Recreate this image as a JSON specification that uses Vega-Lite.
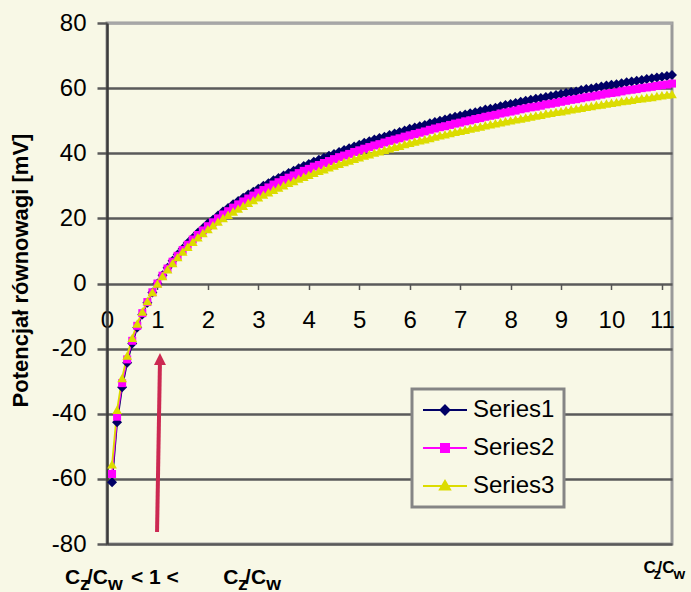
{
  "$schema": "https://vega.github.io/schema/vega-lite/v6.json",
  "width": 565,
  "height": 521,
  "autosize": {"type": "none"},
  "padding": {"left": 107, "top": 23, "right": 19, "bottom": 48},
  "background": "#f8f8e6",
  "config": {
    "font": "Liberation Sans",
    "view": {"stroke": "#9a9a9a", "strokeWidth": 3, "fill": "#f8f8e6"}
  },
  "datasets": {
    "curves": [
      {"x":0.1,"Series1":-61,"Series2":-58.5,"Series3":-55.5},
      {"x":0.2,"Series1":-42.6,"Series2":-40.9,"Series3":-38.8},
      {"x":0.3,"Series1":-31.9,"Series2":-30.6,"Series3":-29.0},
      {"x":0.4,"Series1":-24.3,"Series2":-23.3,"Series3":-22.1},
      {"x":0.5,"Series1":-18.4,"Series2":-17.6,"Series3":-16.7},
      {"x":0.6,"Series1":-13.5,"Series2":-13.0,"Series3":-12.3},
      {"x":0.7,"Series1":-9.5,"Series2":-9.1,"Series3":-8.6},
      {"x":0.8,"Series1":-5.9,"Series2":-5.7,"Series3":-5.4},
      {"x":0.9,"Series1":-2.8,"Series2":-2.7,"Series3":-2.6},
      {"x":1.0,"Series1":0,"Series2":0,"Series3":0},
      {"x":1.1,"Series1":2.5,"Series2":2.4,"Series3":2.3},
      {"x":1.2,"Series1":4.8,"Series2":4.6,"Series3":4.4},
      {"x":1.3,"Series1":7.0,"Series2":6.7,"Series3":6.3},
      {"x":1.4,"Series1":8.9,"Series2":8.5,"Series3":8.1},
      {"x":1.5,"Series1":10.7,"Series2":10.3,"Series3":9.8},
      {"x":1.6,"Series1":12.4,"Series2":11.9,"Series3":11.3},
      {"x":1.7,"Series1":14.0,"Series2":13.5,"Series3":12.8},
      {"x":1.8,"Series1":15.6,"Series2":14.9,"Series3":14.2},
      {"x":1.9,"Series1":17.0,"Series2":16.3,"Series3":15.5},
      {"x":2.0,"Series1":18.4,"Series2":17.6,"Series3":16.7},
      {"x":2.1,"Series1":19.6,"Series2":18.8,"Series3":17.9},
      {"x":2.2,"Series1":20.9,"Series2":20.0,"Series3":19.0},
      {"x":2.3,"Series1":22.1,"Series2":21.2,"Series3":20.1},
      {"x":2.4,"Series1":23.2,"Series2":22.2,"Series3":21.1},
      {"x":2.5,"Series1":24.3,"Series2":23.3,"Series3":22.1},
      {"x":2.6,"Series1":25.3,"Series2":24.3,"Series3":23.0},
      {"x":2.7,"Series1":26.3,"Series2":25.2,"Series3":23.9},
      {"x":2.8,"Series1":27.3,"Series2":26.1,"Series3":24.8},
      {"x":2.9,"Series1":28.2,"Series2":27.0,"Series3":25.6},
      {"x":3.0,"Series1":29.1,"Series2":27.9,"Series3":26.5},
      {"x":3.1,"Series1":30.0,"Series2":28.7,"Series3":27.3},
      {"x":3.2,"Series1":30.8,"Series2":29.5,"Series3":28.0},
      {"x":3.3,"Series1":31.7,"Series2":30.4,"Series3":28.8},
      {"x":3.4,"Series1":32.4,"Series2":31.1,"Series3":29.5},
      {"x":3.5,"Series1":33.2,"Series2":31.8,"Series3":30.2},
      {"x":3.6,"Series1":33.9,"Series2":32.5,"Series3":30.9},
      {"x":3.7,"Series1":34.6,"Series2":33.2,"Series3":31.5},
      {"x":3.8,"Series1":35.4,"Series2":33.9,"Series3":32.2},
      {"x":3.9,"Series1":36.1,"Series2":34.6,"Series3":32.8},
      {"x":4.0,"Series1":36.7,"Series2":35.2,"Series3":33.4},
      {"x":4.1,"Series1":37.4,"Series2":35.9,"Series3":34.0},
      {"x":4.2,"Series1":38.0,"Series2":36.4,"Series3":34.6},
      {"x":4.3,"Series1":38.6,"Series2":37.0,"Series3":35.1},
      {"x":4.4,"Series1":39.2,"Series2":37.6,"Series3":35.7},
      {"x":4.5,"Series1":39.8,"Series2":38.2,"Series3":36.2},
      {"x":4.6,"Series1":40.4,"Series2":38.8,"Series3":36.8},
      {"x":4.7,"Series1":41.0,"Series2":39.3,"Series3":37.3},
      {"x":4.8,"Series1":41.5,"Series2":39.8,"Series3":37.8},
      {"x":4.9,"Series1":42.1,"Series2":40.4,"Series3":38.3},
      {"x":5.0,"Series1":42.6,"Series2":40.9,"Series3":38.8},
      {"x":5.1,"Series1":43.2,"Series2":41.4,"Series3":39.3},
      {"x":5.2,"Series1":43.7,"Series2":41.9,"Series3":39.7},
      {"x":5.3,"Series1":44.2,"Series2":42.4,"Series3":40.2},
      {"x":5.4,"Series1":44.7,"Series2":42.8,"Series3":40.6},
      {"x":5.5,"Series1":45.1,"Series2":43.3,"Series3":41.1},
      {"x":5.6,"Series1":45.6,"Series2":43.8,"Series3":41.5},
      {"x":5.7,"Series1":46.1,"Series2":44.2,"Series3":42.0},
      {"x":5.8,"Series1":46.5,"Series2":44.6,"Series3":42.3},
      {"x":5.9,"Series1":47.0,"Series2":45.1,"Series3":42.8},
      {"x":6.0,"Series1":47.5,"Series2":45.5,"Series3":43.2},
      {"x":6.1,"Series1":47.9,"Series2":45.9,"Series3":43.6},
      {"x":6.2,"Series1":48.3,"Series2":46.3,"Series3":44.0},
      {"x":6.3,"Series1":48.7,"Series2":46.7,"Series3":44.3},
      {"x":6.4,"Series1":49.2,"Series2":47.2,"Series3":44.7},
      {"x":6.5,"Series1":49.6,"Series2":47.6,"Series3":45.1},
      {"x":6.6,"Series1":50.0,"Series2":48.0,"Series3":45.5},
      {"x":6.7,"Series1":50.4,"Series2":48.3,"Series3":45.8},
      {"x":6.8,"Series1":50.8,"Series2":48.7,"Series3":46.2},
      {"x":6.9,"Series1":51.2,"Series2":49.1,"Series3":46.6},
      {"x":7.0,"Series1":51.5,"Series2":49.4,"Series3":46.9},
      {"x":7.1,"Series1":51.9,"Series2":49.8,"Series3":47.2},
      {"x":7.2,"Series1":52.3,"Series2":50.1,"Series3":47.6},
      {"x":7.3,"Series1":52.6,"Series2":50.5,"Series3":47.9},
      {"x":7.4,"Series1":53.0,"Series2":50.8,"Series3":48.2},
      {"x":7.5,"Series1":53.4,"Series2":51.2,"Series3":48.6},
      {"x":7.6,"Series1":53.7,"Series2":51.5,"Series3":48.9},
      {"x":7.7,"Series1":54.0,"Series2":51.8,"Series3":49.2},
      {"x":7.8,"Series1":54.4,"Series2":52.2,"Series3":49.5},
      {"x":7.9,"Series1":54.8,"Series2":52.5,"Series3":49.8},
      {"x":8.0,"Series1":55.1,"Series2":52.8,"Series3":50.1},
      {"x":8.1,"Series1":55.4,"Series2":53.1,"Series3":50.4},
      {"x":8.2,"Series1":55.8,"Series2":53.5,"Series3":50.7},
      {"x":8.3,"Series1":56.1,"Series2":53.8,"Series3":51.0},
      {"x":8.4,"Series1":56.4,"Series2":54.1,"Series3":51.3},
      {"x":8.5,"Series1":56.7,"Series2":54.3,"Series3":51.6},
      {"x":8.6,"Series1":57.0,"Series2":54.6,"Series3":51.8},
      {"x":8.7,"Series1":57.3,"Series2":55.0,"Series3":52.2},
      {"x":8.8,"Series1":57.6,"Series2":55.2,"Series3":52.4},
      {"x":8.9,"Series1":57.9,"Series2":55.5,"Series3":52.7},
      {"x":9.0,"Series1":58.2,"Series2":55.8,"Series3":52.9},
      {"x":9.1,"Series1":58.5,"Series2":56.1,"Series3":53.2},
      {"x":9.2,"Series1":58.8,"Series2":56.4,"Series3":53.5},
      {"x":9.3,"Series1":59.0,"Series2":56.6,"Series3":53.7},
      {"x":9.4,"Series1":59.4,"Series2":56.9,"Series3":54.0},
      {"x":9.5,"Series1":59.7,"Series2":57.2,"Series3":54.3},
      {"x":9.6,"Series1":59.9,"Series2":57.4,"Series3":54.5},
      {"x":9.7,"Series1":60.2,"Series2":57.7,"Series3":54.8},
      {"x":9.8,"Series1":60.5,"Series2":58.0,"Series3":55.0},
      {"x":9.9,"Series1":60.8,"Series2":58.3,"Series3":55.3},
      {"x":10.0,"Series1":61.0,"Series2":58.5,"Series3":55.5},
      {"x":10.1,"Series1":61.2,"Series2":58.7,"Series3":55.7},
      {"x":10.2,"Series1":61.5,"Series2":59.0,"Series3":56.0},
      {"x":10.3,"Series1":61.8,"Series2":59.3,"Series3":56.2},
      {"x":10.4,"Series1":62.0,"Series2":59.5,"Series3":56.4},
      {"x":10.5,"Series1":62.3,"Series2":59.7,"Series3":56.7},
      {"x":10.6,"Series1":62.5,"Series2":60.0,"Series3":56.9},
      {"x":10.7,"Series1":62.8,"Series2":60.2,"Series3":57.1},
      {"x":10.8,"Series1":63.0,"Series2":60.4,"Series3":57.3},
      {"x":10.9,"Series1":63.3,"Series2":60.7,"Series3":57.6},
      {"x":11.0,"Series1":63.5,"Series2":60.9,"Series3":57.8},
      {"x":11.1,"Series1":63.7,"Series2":61.1,"Series3":58.0},
      {"x":11.2,"Series1":64.0,"Series2":61.4,"Series3":58.2}
    ],
    "arrow": [
      {"x": 0.992, "y": -76.3, "x2": 1.05, "y2": -23.8}
    ],
    "arrowhead": [
      {"x": 1.05, "y": -25.0}
    ],
    "labels": [
      {"t": "C", "x": -0.833, "y": -92.2, "kind": "main"},
      {"t": "z", "x": -0.536, "y": -94.1, "kind": "sub"},
      {"t": "/C", "x": -0.397, "y": -92.2, "kind": "main"},
      {"t": "w", "x": 0.02, "y": -94.1, "kind": "sub"},
      {"t": "< 1 <", "x": 0.476, "y": -92.2, "kind": "main"},
      {"t": "C", "x": 2.302, "y": -92.2, "kind": "main"},
      {"t": "z", "x": 2.599, "y": -94.1, "kind": "sub"},
      {"t": "/C", "x": 2.738, "y": -92.2, "kind": "main"},
      {"t": "w", "x": 3.155, "y": -94.1, "kind": "sub"},
      {"t": "C", "x": 10.635, "y": -89.0, "kind": "small"},
      {"t": "z", "x": 10.833, "y": -90.6, "kind": "smallsub"},
      {"t": "/C", "x": 10.913, "y": -89.0, "kind": "small"},
      {"t": "w", "x": 11.23, "y": -90.6, "kind": "smallsub"}
    ]
  },
  "encoding": {
    "x": {
      "field": "x", "type": "quantitative",
      "scale": {"domain": [0, 11.2], "nice": false, "zero": false},
      "axis": {
        "orient": "bottom", "offset": -260.5, "title": null,
        "values": [0, 1, 2, 3, 4, 5, 6, 7, 8, 9, 10, 11],
        "grid": false, "domain": false,
        "tickColor": "#555555", "tickWidth": 1.5, "tickSize": 6,
        "labelFont": "Liberation Sans", "labelFontSize": 24, "labelColor": "#000000",
        "labelPadding": 19, "labelFlush": false, "labelOverlap": false
      }
    },
    "y": {
      "field": "y", "type": "quantitative",
      "scale": {"domain": [-80, 80], "nice": false},
      "axis": {
        "title": "Potencjał równowagi [mV]",
        "titleFont": "Liberation Sans", "titleFontSize": 22, "titleFontWeight": "bold",
        "titleColor": "#000000", "titleX": -80, "titleY": 247,
        "titleBaseline": "alphabetic", "titleAngle": -90, "titleAlign": "center",
        "values": [-80, -60, -40, -20, 0, 20, 40, 60, 80],
        "labelExpr": "'' + datum.value",
        "grid": true,
        "gridColor": {"condition": {"test": "datum.value === 80", "value": "#a8a8a8"}, "value": "#5a5a5a"},
        "gridWidth": 2.5,
        "domainColor": "#3c3c3c", "domainWidth": 2.5,
        "tickColor": "#5a5a5a", "tickWidth": 2.5, "tickSize": 10,
        "labelFont": "Liberation Sans", "labelFontSize": 24, "labelColor": "#000000",
        "labelPadding": 11
      }
    }
  },
  "layer": [
    {
      "data": {"name": "curves"},
      "transform": [{"fold": ["Series1", "Series2", "Series3"], "as": ["series", "y"]}],
      "mark": {"type": "line", "strokeWidth": 1.8},
      "encoding": {
        "color": {
          "field": "series", "type": "nominal",
          "scale": {"domain": ["Series1", "Series2", "Series3"], "range": ["#000066", "#ff00ff", "#dcdc00"]},
          "legend": {
            "title": null, "orient": "none", "legendX": 305, "legendY": 366,
            "padding": 9, "fillColor": "#f8f8e6", "strokeColor": "#858585",
            "labelFont": "Liberation Sans", "labelFontSize": 24, "labelColor": "#000000",
            "labelOffset": 28, "symbolSize": 400, "symbolStrokeWidth": 2, "rowPadding": 14,
            "encode": {
              "legend": {"update": {"strokeWidth": {"value": 3}}},
              "symbols": {"update": {
                "shape": {"signal": "datum.value === 'Series1' ? 'M-1,0L3.4,0M1.2,-0.45L1.65,0L1.2,0.45L0.75,0Z' : datum.value === 'Series2' ? 'M-1,0L3.4,0M0.8,-0.4L1.6,-0.4L1.6,0.4L0.8,0.4Z' : 'M-1,0L3.4,0M1.2,-0.5L1.7,0.35L0.7,0.35Z'"},
                "fill": {"signal": "scale('color', datum.value)"},
                "stroke": {"signal": "scale('color', datum.value)"},
                "strokeWidth": {"value": 2},
                "opacity": {"value": 1}
              }}
            }
          }
        }
      }
    },
    {
      "data": {"name": "curves"},
      "transform": [{"fold": ["Series1", "Series2", "Series3"], "as": ["series", "y"]}, {"filter": {"field": "series", "equal": "Series1"}}],
      "mark": {"type": "point", "filled": true, "size": 100, "opacity": 1, "shape": "diamond", "color": "#000066"},
      "encoding": {}
    },
    {
      "data": {"name": "curves"},
      "transform": [{"fold": ["Series1", "Series2", "Series3"], "as": ["series", "y"]}, {"filter": {"field": "series", "equal": "Series2"}}],
      "mark": {"type": "point", "filled": true, "size": 64, "opacity": 1, "shape": "square", "color": "#ff00ff"},
      "encoding": {}
    },
    {
      "data": {"name": "curves"},
      "transform": [{"fold": ["Series1", "Series2", "Series3"], "as": ["series", "y"]}, {"filter": {"field": "series", "equal": "Series3"}}],
      "mark": {"type": "point", "filled": true, "size": 95, "opacity": 1, "shape": "triangle-up", "color": "#dcdc00"},
      "encoding": {}
    },
    {
      "data": {"name": "arrow"},
      "mark": {"type": "rule", "color": "#cc2952", "strokeWidth": 4},
      "encoding": {
        "x2": {"field": "x2"},
        "y2": {"field": "y2"}
      }
    },
    {
      "data": {"name": "arrowhead"},
      "mark": {"type": "point", "filled": true, "opacity": 1, "color": "#cc2952", "size": 576, "shape": "M0,-1L0.5,0L-0.5,0Z"},
      "encoding": {}
    },
    {
      "data": {"name": "labels"},
      "mark": {"type": "text", "align": "left", "baseline": "alphabetic", "fontWeight": "bold", "color": "#000000", "font": "Liberation Sans"},
      "encoding": {
        "text": {"field": "t"},
        "size": {
          "field": "kind", "type": "ordinal",
          "scale": {"domain": ["main", "sub", "small", "smallsub"], "range": [21, 15, 14, 10]},
          "legend": null
        }
      }
    }
  ]
}
